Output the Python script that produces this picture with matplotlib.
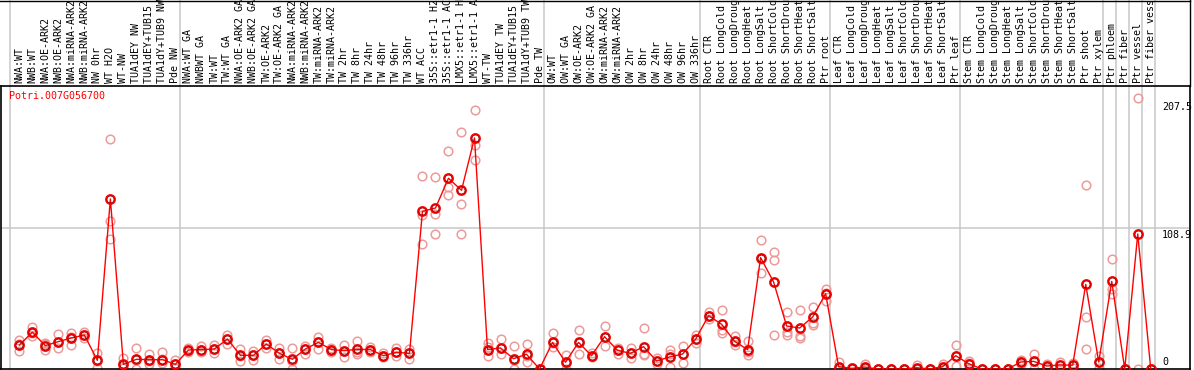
import matplotlib
matplotlib.use("Agg")
import matplotlib.pyplot as plt
from matplotlib.lines import Line2D
from matplotlib.transforms import blended_transform_factory

gene_name = "Potri.007G056700"

sample_labels = [
    "NWA:WT", "NWB:WT", "NWA:OE-ARK2", "NWB:OE-ARK2", "NWA:miRNA-ARK2",
    "NWB:miRNA-ARK2", "NW 0hr", "WT H2O", "WT-NW", "TUA1dEY NW",
    "TUA1dEY+TUB15 ", "TUA1dY+TUB9 NW", "Pde NW",
    "NWA:WT GA", "NWBWT GA", "TW:WT", "TW:WT GA", "NWA:OE-ARK2 GA",
    "NWB:OE-ARK2 GA", "TW:OE-ARK2", "TW:OE-ARK2 GA", "NWA:miRNA-ARK2",
    "NWB:miRNA-ARK2", "TW:miRNA-ARK2", "TW:miRNA-ARK2", "TW 2hr", "TW 8hr",
    "TW 24hr", "TW 48hr", "TW 96hr", "TW 336hr", "WT ACC", "35S::etr1-1 H2",
    "35S::etr1-1 AC", "LMX5::etr1-1 H", "LMX5::etr1-1 A", "WT-TW",
    "TUA1dEY TW", "TUA1dEY+TUB15 ", "TUA1dY+TUB9 TW", "Pde TW",
    "OW:WT", "OW:WT GA", "OW:OE-ARK2", "OW:OE-ARK2 GA", "OW:miRNA-ARK2",
    "OW:miRNA-ARK2", "OW 2hr", "OW 8hr", "OW 24hr", "OW 48hr", "OW 96hr",
    "OW 336hr",
    "Root CTR", "Root LongCold", "Root LongDroug", "Root LongHeat",
    "Root LongSalt", "Root ShortCold", "Root ShortDrou", "Root ShortHeat",
    "Root ShortSalt", "Ptr root",
    "Leaf CTR", "Leaf LongCold", "Leaf LongDroug", "Leaf LongHeat",
    "Leaf LongSalt", "Leaf ShortCold", "Leaf ShortDrou", "Leaf ShortHeat",
    "Leaf ShortSalt", "Ptr leaf",
    "Stem CTR", "Stem LongCold", "Stem LongDroug", "Stem LongHeat",
    "Stem LongSalt", "Stem ShortCold", "Stem ShortDrou", "Stem ShortHeat",
    "Stem ShortSalt",
    "Ptr shoot", "Ptr xylem", "Ptr phloem", "Ptr fiber", "Ptr vessel",
    "Ptr fiber vess",
]

# index of the last sample before each grey separator (-1 = left edge)
group_ends = [-1, 12, 40, 52, 62, 72, 83, 84, 85, 86, 87]

mean_values = [
    18.6, 28.4, 18.1, 21.2, 24.0, 26.3, 6.7, 131.6, 3.6, 7.5, 7.2, 7.2, 3.6,
    14.7, 15.0, 15.5, 23.2, 10.6, 10.6, 19.3, 12.1, 7.5, 15.5, 20.6, 15.0,
    14.2, 15.2, 15.0, 10.3, 12.9, 12.1, 122.0, 124.6, 147.6, 138.3, 178.8,
    15.0, 16.3, 8.0, 11.4, 0.0,
    20.6, 5.2, 20.6, 10.3, 25.0, 14.4, 12.1, 17.3, 6.2, 9.3, 11.6, 23.0,
    41.3, 34.6, 21.4, 15.0, 86.2, 67.3, 33.3, 31.7, 40.2, 58.3,
    1.8, 0.5, 1.5, 0.0, 0.0, 0.0, 1.0, 0.0, 1.8, 10.3,
    4.1, 0.0, 0.0, 0.0, 5.4, 5.9, 2.3, 3.1, 3.0,
    65.5, 5.4, 67.8, 0.0, 104.5, 0.0,
]

rep_1 = [
    22.2, 32.8, 20.1, 26.8, 28.1, 28.4, 12.4, 177.7, 8.5, 16.0, 11.6, 12.9, 6.7,
    16.0, 17.6, 18.6, 26.3, 15.7, 14.2, 22.2, 16.0, 16.0, 18.1, 24.8, 16.5,
    18.6, 21.7, 17.0, 12.6, 16.3, 15.7, 149.1, 148.6, 168.7, 183.4, 200.2,
    19.9, 23.2, 17.6, 19.6, 0.0,
    27.6, 11.0, 29.9, 12.0, 33.0, 16.6, 16.6, 31.5, 8.7, 14.7, 17.6, 26.3,
    44.1, 45.4, 25.5, 21.4, 99.6, 90.6, 44.1, 45.7, 48.2, 62.2,
    5.4, 1.0, 3.6, 0.0, 0.0, 0.0, 3.0, 0.0, 3.9, 18.6,
    5.9, 0.0, 0.0, 0.0, 6.7, 11.6, 3.6, 5.4, 4.4,
    142.2, 10.3, 84.9, 0.0, 209.7, 0.0,
]

rep_2 = [
    19.0, 28.0, 19.0, 21.0, 25.0, 26.0, 6.0, 114.3, 2.0, 7.0, 6.0, 8.0, 3.5,
    14.0, 15.0, 15.5, 23.0, 10.0, 10.6, 19.0, 12.0, 6.0, 15.5, 21.0, 15.0,
    14.0, 13.0, 15.0, 10.3, 13.0, 12.0, 119.4, 120.2, 140.9, 127.5, 173.6,
    17.0, 16.0, 7.0, 10.0, 0.0,
    20.0, 5.0, 20.0, 10.0, 25.0, 14.4, 12.0, 11.4, 6.2, 11.8, 11.6, 23.0,
    41.0, 30.2, 21.0, 13.0, 85.0, 84.1, 28.4, 25.3, 35.8, 59.0,
    0.0, 0.0, 1.0, 0.0, 0.0, 0.0, 0.0, 0.0, 1.5, 10.0,
    5.0, 0.0, 0.0, 0.0, 5.4, 6.0, 2.3, 3.1, 3.0,
    40.2, 5.4, 61.7, 0.0, 0.0, 0.0,
]

rep_3 = [
    13.7, 25.3, 15.0, 16.0, 18.6, 24.3, 0.8, 100.9, 0.5, 0.0, 3.9, 4.4, 0.8,
    13.0, 13.2, 12.0, 19.6, 6.2, 7.0, 16.0, 8.0, 0.0, 11.9, 15.7, 13.5,
    9.5, 11.4, 13.0, 9.0, 10.3, 8.0, 96.7, 104.5, 134.4, 104.5, 161.8,
    10.3, 11.9, 0.0, 5.4, 0.0,
    16.8, 0.0, 11.6, 9.0, 17.6, 11.9, 8.2, 10.5, 3.6, 1.8, 4.3, 20.2,
    38.9, 27.9, 18.6, 10.6, 74.1, 26.3, 26.6, 24.0, 34.0, 52.9,
    0.0, 0.0, 0.0, 0.0, 0.0, 0.0, 0.0, 0.0, 0.0, 2.0,
    1.0, 0.0, 0.0, 0.0, 4.0, 0.0, 0.5, 0.5, 1.0,
    15.2, 0.5, 58.3, 0.0, None, 0.0,
]

y_ticks = [0, 108.9, 207.5]

W, H = 1194, 370
fig = plt.figure(figsize=(W / 100, H / 100), dpi=100)
plot_top = 86
plot_bottom = 369
ax = fig.add_axes([1 / W, (H - plot_bottom) / H, 1188.5 / W, (plot_bottom - plot_top) / H])

x = list(range(len(sample_labels)))
ax.set_xlim(-1.41, 89.98)
ax.set_ylim(0, 219)
ax.set_xticks([])
ax.set_yticks([])
for sp in ax.spines.values():
    sp.set_color("black")
    sp.set_linewidth(1.2)

grey = "#c8c8c8"
# separators run through the label header too
for end in group_ends:
    pos = end + 0.36 if end >= 0 else -0.72
    ax.axvline(pos, ymin=0, ymax=(plot_bottom - 0) / (plot_bottom - plot_top),
               color=grey, lw=1.1, clip_on=False, zorder=1)
ax.axhline(108.9, color=grey, lw=1.1, zorder=1)

# replicates
for reps in (rep_1, rep_2, rep_3):
    xs = [i for i, v in zip(x, reps) if v is not None]
    ys = [v for v in reps if v is not None]
    ax.plot(xs, ys, linestyle="none", marker="o", markersize=6.2,
            markerfacecolor="none", markeredgecolor="#ec9a9a",
            markeredgewidth=1.1, zorder=2, clip_on=True)

# mean line
ax.plot(x, mean_values, color="#ff0000", lw=1.0, zorder=3)
ax.plot(x, mean_values, linestyle="none", marker="o", markersize=6.4,
        markerfacecolor="none", markeredgecolor="#ff0000",
        markeredgewidth=1.4, zorder=4)
ax.plot(x, mean_values, linestyle="none", marker="o", markersize=5.0,
        markerfacecolor="none", markeredgecolor="#700000",
        markeredgewidth=0.5, zorder=5)

mono = "DejaVu Sans Mono"
fs = 7.2

# rotated sample labels in the header
trans = blended_transform_factory(ax.transData, fig.transFigure)
for i, lab in enumerate(sample_labels):
    ax.text(i, 1 - 83 / H, lab, rotation=90, ha="center", va="bottom",
            fontsize=fs, family=mono, color="black", transform=trans,
            clip_on=False)

# right side value labels
ytrans = blended_transform_factory(fig.transFigure, ax.transData)
for v in y_ticks:
    ax.text(1162 / W, v + (1.5 if v == 0 else -1.0), "{:g}".format(v),
            ha="left", va="bottom" if v == 0 else "top",
            fontsize=fs, family=mono, color="black", transform=ytrans,
            zorder=6)

fig.text(9 / W, 1 - 96 / H, gene_name, ha="left", va="center",
         fontsize=fs, family=mono, color="#ff0000")

# frame of the header area
fig.add_artist(Line2D([0, 1190 / W], [1 - 0.5 / H, 1 - 0.5 / H], color="black", lw=1.0))
fig.add_artist(Line2D([1189.5 / W, 1189.5 / W], [1 - plot_top / H, 1], color="black", lw=1.0))

fig.savefig("out.png", dpi=100)
